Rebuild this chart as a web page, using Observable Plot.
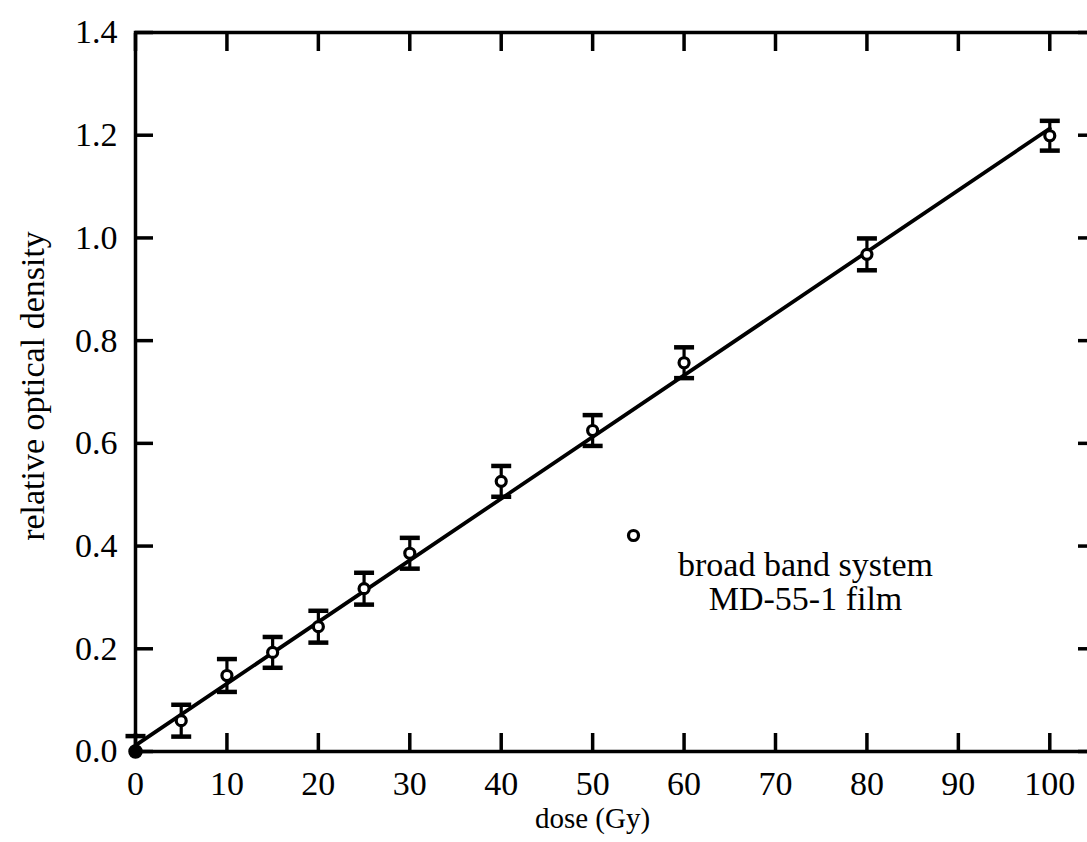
<!DOCTYPE html>
<html>
<head>
<meta charset="utf-8">
<script src="https://cdn.jsdelivr.net/npm/d3@7"></script>
<script src="https://cdn.jsdelivr.net/npm/@observablehq/plot@0.6"></script>
<style>
  html, body { margin: 0; padding: 0; background: #fff; overflow: hidden; }
</style>
</head>
<body>
<div id="chart"></div>
<script>
// ---- data ----
const dose = [0, 5, 10, 15, 20, 25, 30, 40, 50, 60, 80, 100];
const density = [0, 0.060, 0.148, 0.193, 0.243, 0.317, 0.386, 0.526, 0.625, 0.757, 0.968, 1.199];
const errUp = [0.03, 0.031, 0.032, 0.030, 0.031, 0.031, 0.030, 0.030, 0.030, 0.030, 0.031, 0.029];
const errDown = [0, 0.031, 0.032, 0.030, 0.031, 0.031, 0.030, 0.030, 0.030, 0.030, 0.031, 0.029];
const fitDose = [0, 100];
const fitDensity = [0.012, 1.213];
const xTicks = [0, 10, 20, 30, 40, 50, 60, 70, 80, 90, 100];
const yTicks = [0, 0.2, 0.4, 0.6, 0.8, 1.0, 1.2, 1.4];
const xLabel = "dose (Gy)";
const yLabel = "relative optical density";
const legendText = "broad band system\nMD-55-1 film";

const pts = dose.map((d, i) => ({
  dose: d, od: density[i], lo: density[i] - errDown[i], hi: density[i] + errUp[i]
}));
const fit = fitDose.map((d, i) => ({dose: d, od: fitDensity[i]}));

const hbar = {
  draw(context, size) {
    const w = Math.sqrt(size / Math.PI);
    context.moveTo(-w, 0);
    context.lineTo(w, 0);
  }
};

const FS = 34;
const chart = Plot.plot({
  width: 1100,
  height: 842,
  marginLeft: 135,
  marginRight: 5,
  marginTop: 32,
  marginBottom: 91,
  style: {fontFamily: "'Liberation Serif', 'Times New Roman', serif", fontSize: FS + "px", color: "black", background: "white", overflow: "visible", maxWidth: "none"},
  x: {domain: [0, 105]},
  y: {domain: [0, 1.4]},
  marks: [
    Plot.axisX({anchor: "bottom", ticks: xTicks, tickSize: -18, tickPadding: 37, strokeWidth: 3.5, fontSize: FS, label: null, tickFormat: d3.format("d")}),
    Plot.axisX({anchor: "top", ticks: xTicks, tickSize: -18, strokeWidth: 3.5, label: null, tickFormat: () => ""}),
    Plot.axisY({anchor: "left", ticks: yTicks, tickSize: -18, tickPadding: 36, strokeWidth: 3.5, fontSize: FS, label: null, tickFormat: d3.format(".1f")}),
    Plot.axisY({anchor: "right", ticks: yTicks, tickSize: -18, strokeWidth: 3.5, label: null, tickFormat: () => ""}),
    Plot.frame({stroke: "black", strokeWidth: 3.5}),
    Plot.line(fit, {x: "dose", y: "od", stroke: "black", strokeWidth: 3.8}),
    Plot.ruleX(pts.slice(1), {x: "dose", y1: "lo", y2: "hi", stroke: "black", strokeWidth: 3.2}),
    Plot.dot(pts, {x: "dose", y: "hi", symbol: hbar, r: 10, stroke: "black", fill: "none", strokeWidth: 4.5}),
    Plot.dot(pts.slice(1), {x: "dose", y: "lo", symbol: hbar, r: 10, stroke: "black", fill: "none", strokeWidth: 4.5}),
    Plot.dot(pts.slice(1), {x: "dose", y: "od", r: 5, stroke: "black", fill: "white", strokeWidth: 3.2}),
    Plot.dot(pts.slice(0, 1), {x: "dose", y: "od", r: 6.5, fill: "black", stroke: "black"}),
    // axis titles
    Plot.text([xLabel], {frameAnchor: "bottom", textAnchor: "middle", dx: -23, dy: 76, fontSize: 29, fill: "black"}),
    Plot.text([yLabel], {frameAnchor: "left", textAnchor: "middle", rotate: -90, dx: -102, dy: -6, fontSize: 34, fill: "black"}),
    // legend
    Plot.dot([0], {frameAnchor: "top-left", dx: 498, dy: 503, r: 5, stroke: "black", fill: "white", strokeWidth: 3.2}),
    Plot.text([legendText], {frameAnchor: "top-left", dx: 670, dy: 519, textAnchor: "middle", lineHeight: 1, fontSize: FS, fill: "black"})
  ]
});
document.getElementById("chart").appendChild(chart);
</script>
</body>
</html>
